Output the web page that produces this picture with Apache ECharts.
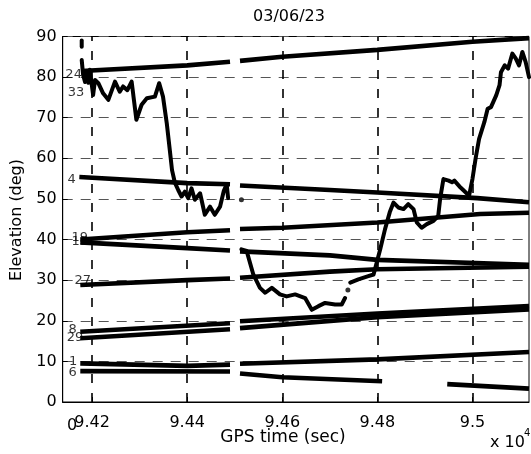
<!DOCTYPE html>
<html><head><meta charset="utf-8">
<script src="https://cdn.jsdelivr.net/npm/echarts@6/dist/echarts.min.js"></script>
<style>html,body{margin:0;padding:0;background:#fff}#c{width:531px;height:454px}</style>
</head><body><div id="c"></div>
<script>
// ---- data (GPS time in seconds, elevation in degrees) ----
const titleText = '03/06/23';
const xTicks = [94200, 94400, 94600, 94800, 95000];
const yTicks = [0, 10, 20, 30, 40, 50, 60, 70, 80, 90];
const xMin = 94138, xMax = 95119;

const sat24 = [[94178,81.5],[94400,82.9],[94490,83.8],'-',[94511,84.0],[94600,85.0],[94800,86.7],[95000,88.7],[95119,89.6]];
const sat4  = [[94173,55.4],[94400,53.9],[94490,53.6],'-',[94511,53.3],[94700,52.2],[94800,51.6],[95010,50.2],[95119,49.2]];
const sat19 = [[94175,40.0],[94400,41.8],[94490,42.3],'-',[94511,42.6],[94600,42.9],[94800,44.2],[95016,46.3],[95119,46.6]];
const sat13 = [[94175,39.3],[94400,37.9],[94490,37.3],'-',[94511,37.1],[94700,36.1],[94800,35.0],[95119,33.8]];
const sat27 = [[94175,28.8],[94400,30.0],[94490,30.4],'-',[94511,30.6],[94700,32.1],[94800,32.7],[95119,33.3]];
const sat8  = [[94175,17.3],[94490,19.4],'-',[94511,19.9],[94800,21.8],[95119,23.6]];
const sat29 = [[94175,15.7],[94490,17.9],'-',[94511,18.2],[94800,20.9],[95119,22.8]];
const sat1  = [[94175,9.5],[94400,8.9],[94490,9.2],'-',[94511,9.4],[94800,10.5],[95119,12.3]];
const sat6  = [[94175,7.6],[94490,7.5],'-',[94511,7.0],[94600,6.1],[94810,5.1],'-',[94947,4.4],[95119,3.3]];

const sat33spike = [[94178,89.0],[94178,87.5]];
const sat33 = [[94178,84.2],[94181,80.5],[94185,78.8],[94188,81.2],[94192,78.6],[94195,81.8],[94202,75.6],[94206,79.3],
  [94213,78.5],[94223,76.0],[94234,74.4],[94248,78.9],[94258,76.4],[94265,77.7],[94274,76.8],[94283,78.9],[94293,69.5],
  [94304,73.2],[94315,74.8],[94332,75.2],[94341,78.5],[94349,75.2],[94357,68.6],[94364,61.3],[94368,57.1],[94374,54.0],
  [94381,52.2],[94388,50.6],[94395,51.8],[94402,50.2],[94409,52.6],[94416,49.8],[94427,51.4],[94437,46.1],[94448,48.1],
  [94458,46.1],[94469,48.1],[94477,52.0],[94483,53.6],[94486,50.2]];
const lowTrack = [[94514,37.6],[94525,37.2],[94539,31.4],[94553,28.1],[94564,26.9],[94578,28.1],[94595,26.5],[94609,26.0],
  [94627,26.5],[94648,25.6],[94662,22.7],[94676,23.6],[94690,24.4],[94711,24.0],[94725,24.0],[94732,25.6],'-',
  [94743,29.4],[94760,30.2],[94781,31.0],[94792,31.4],[94806,37.6],[94816,42.5],[94826,46.7],[94834,49.1],[94844,47.9],
  [94855,47.5],[94865,48.7],[94876,47.5],[94883,44.2],[94893,42.9],[94904,43.8],[94918,44.6],[94928,45.8],[94932,50.0],
  [94939,54.9],[94950,54.5],[94957,54.1],[94962,54.5],[94975,52.8],[94986,51.6],[94993,50.8],[95000,54.9],[95007,60.2],
  [95014,64.8],[95025,68.9],[95032,72.2],[95039,72.6],[95050,75.5],[95057,78.0],[95060,81.2],[95068,82.9],[95075,82.1],
  [95084,85.8],[95091,84.6],[95098,82.9],[95105,86.2],[95112,83.7],[95119,80.0]];
const dots = [[94514,49.8],[94738,27.6]];

const satLabels = ['24','33','4','19','13','27','8','29','1','6'];
const labelTimes = [94161,94166,94157,94174,94174,94180,94159,94164,94160,94159];
const labelElev  = [80.6,76.1,54.7,40.4,39.6,29.8,17.8,15.8,9.9,7.3];

// ---- chart ----
const font = 'DejaVu Sans';
const chart = echarts.init(document.getElementById('c'), null, {renderer:'canvas'});
const lineSeries = [sat24, sat4, sat19, sat13, sat27, sat8, sat29, sat1, sat6].map(d => ({
  type:'line', data:d, showSymbol:false, connectNulls:false, silent:true,
  lineStyle:{color:'#000', width:4.6}, z:3
}));
const squiggles = [sat33spike, sat33, lowTrack].map(d => ({
  type:'line', data:d, showSymbol:false, connectNulls:false, silent:true,
  lineStyle:{color:'#000', width:4, join:'round', cap:'round'}, z:4
}));
chart.setOption({
  animation:false,
  backgroundColor:'#fff',
  textStyle:{fontFamily:font},
  grid:{left:62.7, right:2, top:36.5, bottom:52, show:true, borderColor:'#000', borderWidth:1, backgroundColor:'transparent'},
  xAxis:{type:'value', min:xMin, max:xMax,
    axisLine:{show:true, lineStyle:{color:'#000', width:1}},
    axisTick:{show:true, inside:true, length:5, customValues:xTicks, lineStyle:{color:'#000'}},
    axisLabel:{customValues:xTicks, color:'#000', fontSize:16, fontFamily:font, margin:13,
      formatter:v => String(v/10000)},
    splitLine:{show:false}},
  yAxis:{type:'value', min:0, max:90, interval:10,
    axisLine:{show:true, lineStyle:{color:'#000', width:1}},
    axisTick:{show:true, inside:true, length:5, lineStyle:{color:'#000'}},
    axisLabel:{color:'#000', fontSize:16, fontFamily:font, margin:6},
    splitLine:{show:true, lineStyle:{color:'#555', width:1, type:[10,8]}}},
  graphic:[
    {type:'text', x:289, y:17, style:{text:titleText, font:'16px "DejaVu Sans"', fill:'#000', align:'center', verticalAlign:'middle'}},
    {type:'text', x:17, y:220, rotation:Math.PI/2, style:{text:'Elevation (deg)', font:'16px "DejaVu Sans"', fill:'#000', align:'center', verticalAlign:'middle'}},
    {type:'text', x:283, y:438, style:{text:'GPS time (sec)', font:'17px "DejaVu Sans"', fill:'#000', align:'center', verticalAlign:'middle'}},
    {type:'text', x:490, y:443, style:{text:'x 10', font:'16px "DejaVu Sans"', fill:'#000', align:'left', verticalAlign:'middle'}},
    {type:'text', x:524, y:433, style:{text:'4', font:'10px "DejaVu Sans"', fill:'#000', align:'left', verticalAlign:'middle'}},
    {type:'text', x:72, y:426, style:{text:'0', font:'16px "DejaVu Sans"', fill:'#000', align:'center', verticalAlign:'middle'}}
  ],
  series:[
    {type:'line', data:[], silent:true, markLine:{silent:true, symbol:'none', label:{show:false},
      lineStyle:{color:'#000', width:1.6, type:[9,10]}, data:xTicks.map(v => ({xAxis:v}))}, z:1},
    ...lineSeries,
    ...squiggles,
    {type:'scatter', data:dots, symbolSize:5, itemStyle:{color:'#000'}, silent:true, z:4},
    {type:'scatter', data:satLabels.map((s,i) => [labelTimes[i], labelElev[i], s]), symbolSize:1, silent:true, z:5,
      itemStyle:{color:'transparent'},
      label:{show:true, position:'inside', formatter:p => p.data[2], color:'#000', fontSize:13, fontFamily:font}}
  ]
});
</script></body></html>
